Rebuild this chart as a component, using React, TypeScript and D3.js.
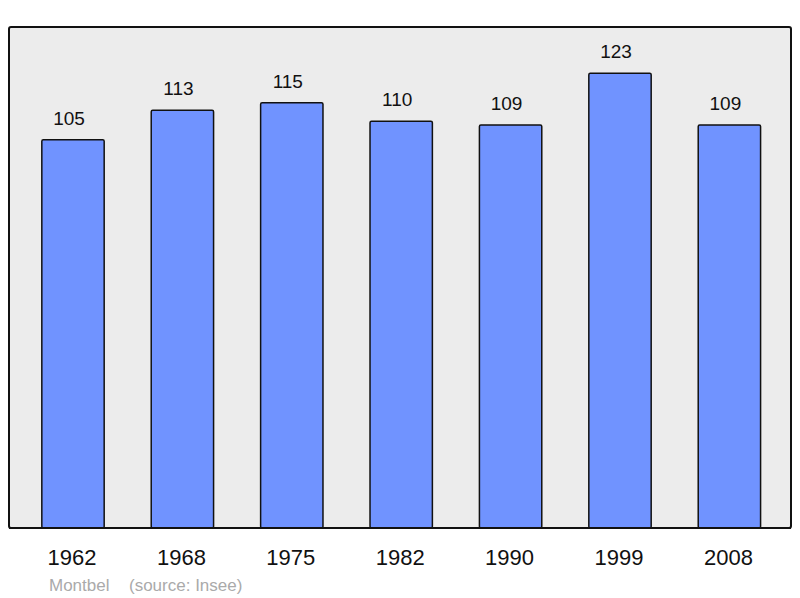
import React, { useRef, useEffect } from 'react';
import * as d3 from 'd3';

const years = ['1962', '1968', '1975', '1982', '1990', '1999', '2008'];
const population = [105, 113, 115, 110, 109, 123, 109];
const commune = 'Montbel';
const source = '(source: Insee)';

const W = 800;
const H = 598;

const App = () => {
  const svgRef = useRef<SVGSVGElement>(null);

  useEffect(() => {
    const svg = d3.select(svgRef.current);
    svg.selectAll('*').remove();

    const frame = { left: 9, top: 27, right: 791, bottom: 528 };

    // y: 1 inhabitant ~ 3.697px, zero on the frame bottom
    const y = d3.scaleLinear()
      .domain([0, (frame.bottom - frame.top) / 3.697])
      .range([frame.bottom, frame.top]);

    const x = d3.scaleBand()
      .domain(years)
      .range([18.3, 18.3 + 7 * 109.4])
      .paddingInner(0.43)
      .paddingOuter(0.215);

    svg.append('rect')
      .attr('x', frame.left)
      .attr('y', frame.top)
      .attr('width', frame.right - frame.left)
      .attr('height', frame.bottom - frame.top)
      .attr('rx', 2)
      .attr('fill', '#ececec')
      .attr('stroke', '#111')
      .attr('stroke-width', 2);

    svg.selectAll('rect.bar')
      .data(population)
      .enter()
      .append('rect')
      .attr('class', 'bar')
      .attr('x', (d, i) => x(years[i]) as number)
      .attr('y', d => y(d))
      .attr('width', x.bandwidth())
      .attr('height', d => frame.bottom - y(d))
      .attr('rx', 1.5)
      .attr('fill', '#7093ff')
      .attr('stroke', '#111')
      .attr('stroke-width', 1.5);

    // redraw frame bottom over the bars
    svg.append('line')
      .attr('x1', frame.left)
      .attr('x2', frame.right)
      .attr('y1', frame.bottom)
      .attr('y2', frame.bottom)
      .attr('stroke', '#111')
      .attr('stroke-width', 2);

    // value labels sit a little left of the bar centre in the original
    svg.selectAll('text.value')
      .data(population)
      .enter()
      .append('text')
      .attr('class', 'value')
      .attr('x', (d, i) => (x(years[i]) as number) + x.bandwidth() / 2 - 4)
      .attr('y', d => y(d) - 15)
      .attr('text-anchor', 'middle')
      .attr('font-family', 'Liberation Sans, Arial, sans-serif')
      .attr('font-size', 19)
      .attr('fill', '#111')
      .text(d => d);

    svg.selectAll('text.year')
      .data(years)
      .enter()
      .append('text')
      .attr('class', 'year')
      .attr('x', d => (x(d) as number) + x.bandwidth() / 2 - 1)
      .attr('y', 565)
      .attr('text-anchor', 'middle')
      .attr('font-family', 'Liberation Sans, Arial, sans-serif')
      .attr('font-size', 22)
      .attr('fill', '#111')
      .text(d => d);

    svg.append('text')
      .attr('x', 49)
      .attr('y', 591)
      .attr('font-family', 'Liberation Sans, Arial, sans-serif')
      .attr('font-size', 17)
      .attr('fill', '#aaa')
      .text(commune);

    svg.append('text')
      .attr('x', 129)
      .attr('y', 591)
      .attr('font-family', 'Liberation Sans, Arial, sans-serif')
      .attr('font-size', 17)
      .attr('fill', '#aaa')
      .text(source);
  }, []);

  return (
    <svg
      ref={svgRef}
      width={W}
      height={H}
      style={{ position: 'absolute', left: 0, top: 0, background: '#fff' }}
    ></svg>
  );
};

export default App;
